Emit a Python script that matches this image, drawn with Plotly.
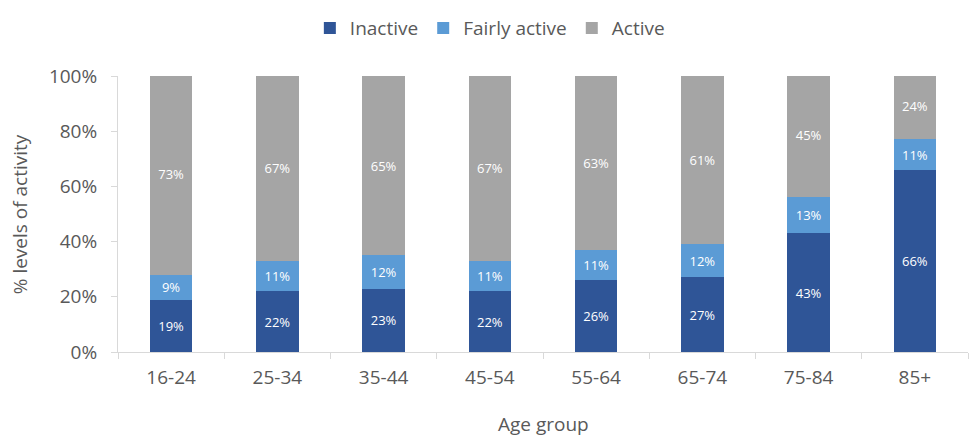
import plotly.graph_objects as go

age_groups = ["16-24", "25-34", "35-44", "45-54", "55-64", "65-74", "75-84", "85+"]
inactive = [19, 22, 23, 22, 26, 27, 43, 66]
fairly_active = [9, 11, 12, 11, 11, 12, 13, 11]
active = [73, 67, 65, 67, 63, 61, 45, 24]

series = [
    ("Inactive", inactive, "#2F5597"),
    ("Fairly active", fairly_active, "#5B9BD5"),
    ("Active", active, "#A5A5A5"),
]

TXT = "#595959"
FONT = "Open Sans"

fig = go.Figure()
for name, vals, color in series:
    fig.add_trace(go.Bar(
        name=name, x=age_groups, y=vals,
        marker=dict(color=color, line=dict(width=0)),
        text=[f"{v}%" for v in vals], textposition="inside",
        insidetextanchor="middle",
        textfont=dict(color="white", size=13, family=FONT),
        width=0.4,
    ))

fig.update_layout(
    barmode="stack",
    width=970, height=440,
    margin=dict(l=118, r=2, t=76, b=88),
    paper_bgcolor="white", plot_bgcolor="white",
    font=dict(family=FONT, color=TXT, size=19),
    showlegend=True,
    legend=dict(orientation="h", xref="container", yref="container",
                x=0.505, xanchor="center", y=0.936, yanchor="middle",
                font=dict(size=19, color=TXT, family=FONT), traceorder="normal",
                itemwidth=30),
    uniformtext=dict(minsize=12, mode="show"),
)
fig.update_xaxes(
    showline=True, linecolor="#D9D9D9", linewidth=1,
    ticks="outside", tickson="boundaries", ticklen=6, tickcolor="#D9D9D9",
    tickfont=dict(size=19, color=TXT), showgrid=False,
    ticklabelstandoff=8,
)
fig.update_yaxes(
    range=[0, 100], tickvals=[0, 20, 40, 60, 80, 100],
    ticktext=["0%", "20%", "40%", "60%", "80%", "100%"],
    showline=True, linecolor="#D9D9D9", linewidth=1,
    ticks="outside", ticklen=6, tickcolor="#D9D9D9",
    tickfont=dict(size=19, color=TXT), showgrid=False,
    ticklabelstandoff=10,
)
fig.add_annotation(text="Age group", xref="paper", yref="paper", x=0.5, y=-0.26,
                   yanchor="middle", showarrow=False, font=dict(size=19, color=TXT))
fig.add_annotation(text="% levels of activity", xref="paper", yref="paper", x=-0.115, y=0.5,
                   textangle=-90, xanchor="center", yanchor="middle", showarrow=False,
                   font=dict(size=19, color=TXT))

fig.write_html("out.html")
